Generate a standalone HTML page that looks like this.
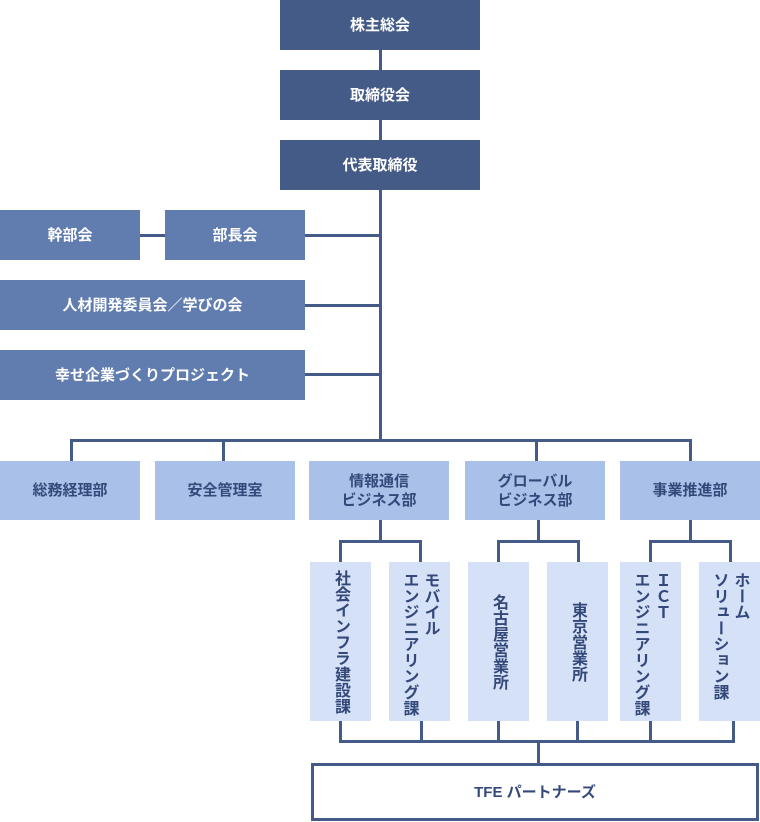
<!DOCTYPE html>
<html><head><meta charset="utf-8"><style>
body{margin:0;width:760px;height:822px;position:relative;background:#fff;font-family:"Liberation Sans","Noto Sans CJK JP",sans-serif;font-weight:bold;overflow:hidden}
.b{position:absolute;display:flex;align-items:center;justify-content:center;text-align:center;font-size:15px;line-height:19px}
.t{background:#445b88;color:#fff}
.m{background:#617db0;color:#fff}
.d{background:#a9c0e8;color:#34497a}
.s{background:#d5e1f7;color:#34497a;writing-mode:vertical-rl;align-items:center;justify-content:center;box-sizing:border-box;line-height:21px;font-size:16px;letter-spacing:0;text-align:start}
.l{position:absolute;background:#445b88}
</style></head><body>
<div class="l" style="left:379px;top:0;width:3px;height:442px"></div>
<div class="l" style="left:140px;top:234px;width:25px;height:3px"></div>
<div class="l" style="left:305px;top:234px;width:75px;height:3px"></div>
<div class="l" style="left:305px;top:304px;width:75px;height:3px"></div>
<div class="l" style="left:305px;top:373px;width:75px;height:3px"></div>
<div class="l" style="left:70px;top:439px;width:622px;height:3px"></div>
<div class="l" style="left:70px;top:439px;width:3px;height:22px"></div>
<div class="l" style="left:222px;top:439px;width:3px;height:22px"></div>
<div class="l" style="left:535px;top:439px;width:3px;height:22px"></div>
<div class="l" style="left:689px;top:439px;width:3px;height:22px"></div>
<div class="l" style="left:379px;top:520px;width:3px;height:22px"></div>
<div class="l" style="left:339px;top:540px;width:83px;height:3px"></div>
<div class="l" style="left:339px;top:540px;width:3px;height:22px"></div>
<div class="l" style="left:419px;top:540px;width:3px;height:22px"></div>
<div class="l" style="left:537px;top:520px;width:3px;height:22px"></div>
<div class="l" style="left:497px;top:540px;width:83px;height:3px"></div>
<div class="l" style="left:497px;top:540px;width:3px;height:22px"></div>
<div class="l" style="left:577px;top:540px;width:3px;height:22px"></div>
<div class="l" style="left:689px;top:520px;width:3px;height:22px"></div>
<div class="l" style="left:649px;top:540px;width:83px;height:3px"></div>
<div class="l" style="left:649px;top:540px;width:3px;height:22px"></div>
<div class="l" style="left:729px;top:540px;width:3px;height:22px"></div>
<div class="l" style="left:339px;top:721px;width:3px;height:22px"></div>
<div class="l" style="left:420px;top:721px;width:3px;height:22px"></div>
<div class="l" style="left:497px;top:721px;width:3px;height:22px"></div>
<div class="l" style="left:576px;top:721px;width:3px;height:22px"></div>
<div class="l" style="left:649px;top:721px;width:3px;height:22px"></div>
<div class="l" style="left:732px;top:721px;width:3px;height:22px"></div>
<div class="l" style="left:339px;top:740px;width:396px;height:3px"></div>
<div class="l" style="left:537px;top:740px;width:3px;height:24px"></div>
<div class="b t" style="left:280px;top:0;width:200px;height:50px">株主総会</div>
<div class="b t" style="left:280px;top:70px;width:200px;height:50px">取締役会</div>
<div class="b t" style="left:280px;top:140px;width:200px;height:50px">代表取締役</div>
<div class="b m" style="left:0;top:210px;width:140px;height:50px">幹部会</div>
<div class="b m" style="left:165px;top:210px;width:140px;height:50px">部長会</div>
<div class="b m" style="left:0;top:280px;width:305px;height:50px">人材開発委員会／学びの会</div>
<div class="b m" style="left:0;top:350px;width:305px;height:50px">幸せ企業づくりプロジェクト</div>
<div class="b d" style="left:0;top:461px;width:140px;height:59px">総務経理部</div>
<div class="b d" style="left:155px;top:461px;width:140px;height:59px">安全管理室</div>
<div class="b d" style="left:309px;top:461px;width:140px;height:59px">情報通信<br>ビジネス部</div>
<div class="b d" style="left:465px;top:461px;width:140px;height:59px">グローバル<br>ビジネス部</div>
<div class="b d" style="left:620px;top:461px;width:140px;height:59px">事業推進部</div>
<div class="b s" style="left:310px;top:562px;width:61px;height:159px">社会インフラ建設課</div>
<div class="b s" style="left:389px;top:562px;width:61px;height:159px;justify-content:flex-start;padding-top:10px"><span>モバイル<br>エンジニアリング課</span></div>
<div class="b s" style="left:468px;top:562px;width:61px;height:159px">名古屋営業所</div>
<div class="b s" style="left:547px;top:562px;width:61px;height:159px">東京営業所</div>
<div class="b s" style="left:620px;top:562px;width:61px;height:159px;justify-content:flex-start;padding-top:10px"><span>ＩＣＴ<br>エンジニアリング課</span></div>
<div class="b s" style="left:699px;top:562px;width:61px;height:159px;justify-content:flex-start;padding-top:10px"><span>ホーム<br>ソリューション課</span></div>
<div class="b" style="left:311px;top:763px;width:448px;height:58px;border:3px solid #445b88;box-sizing:border-box;color:#34497a">TFE パートナーズ</div>
</body></html>
